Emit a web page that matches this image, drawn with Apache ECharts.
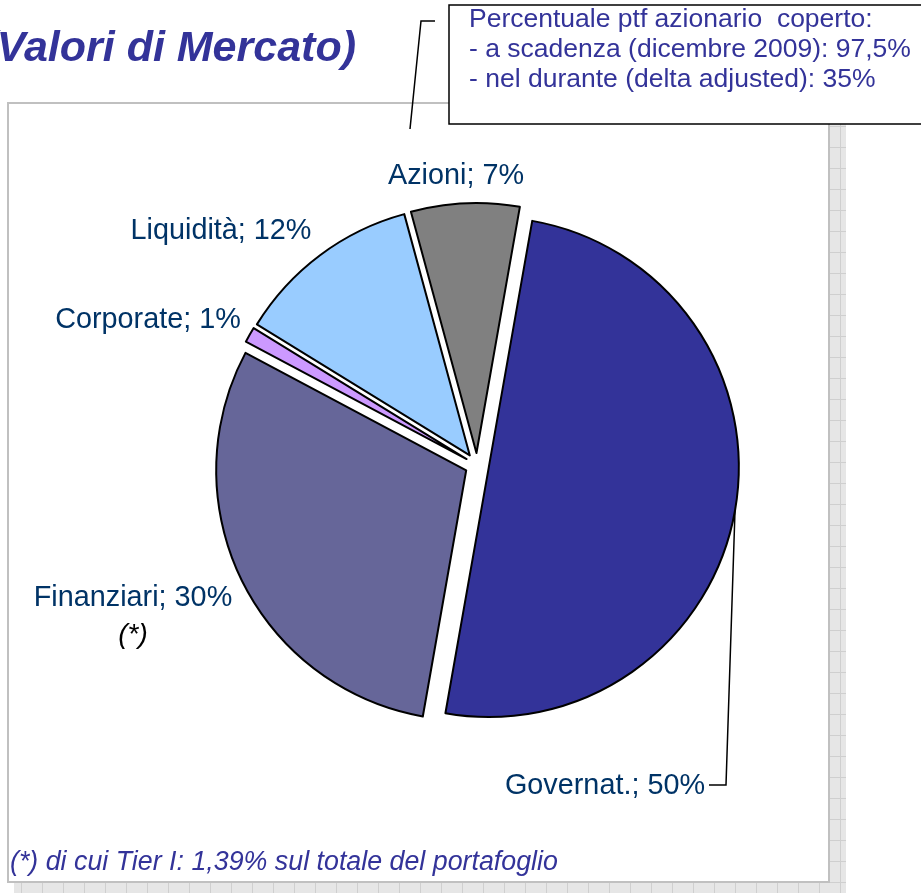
<!DOCTYPE html>
<html>
<head>
<meta charset="utf-8">
<script src="https://cdn.jsdelivr.net/npm/echarts@6/dist/echarts.min.js"></script>
<style>
  html, body { margin: 0; padding: 0; background: #fff; }
  #main { width: 921px; height: 893px; }
</style>
</head>
<body>
<div id="main"></div>
<script>
// categories and values (portfolio split, market values)
const categories = ['Governat.', 'Finanziari', 'Corporate', 'Liquidità', 'Azioni']
const shares = [50, 30, 1, 12, 7]
const sliceColors = ['#333399', '#666699', '#CC99FF', '#99CCFF', '#808080']
// where each label sits (centre of text)
const labelPos = [[605, 786], [133, 617], [148, 320], [221, 231], [456, 176]]

const txtFont = '"Liberation Sans", Arial, sans-serif'
const pieCenter = [477, 465]
const pieRadius = 250
const explode = 12
const startAngle = 80

// light grey grid used for the drop shadow of the frame
function shadowPattern() {
  const c = document.createElement('canvas')
  c.width = 21
  c.height = 21
  const g = c.getContext('2d')
  g.fillStyle = '#e6e6e6'
  g.fillRect(0, 0, 21, 21)
  g.strokeStyle = '#cfcfcf'
  g.lineWidth = 1
  g.beginPath()
  g.moveTo(0.5, 0); g.lineTo(0.5, 21)
  g.moveTo(0, 0.5); g.lineTo(21, 0.5)
  g.stroke()
  return { image: c, repeat: 'repeat' }
}

// outer point of a slice's middle, after the explode offset
function sliceMidPoint(idx) {
  const total = shares.reduce((a, b) => a + b, 0)
  let before = 0
  for (let i = 0; i < idx; i++) before += shares[i]
  const mid = startAngle - (before + shares[idx] / 2) / total * 360
  const rad = mid * Math.PI / 180
  const d = pieRadius + explode
  return [pieCenter[0] + d * Math.cos(rad), pieCenter[1] - d * Math.sin(rad)]
}

const myChart = echarts.init(document.getElementById('main'))
window.addEventListener('resize', () => {
  myChart.resize()
})

const pat = shadowPattern()

// slice labels
const labelGraphics = categories.map((name, i) => {
  const g = {
    type: 'text', z: 20, x: labelPos[i][0], y: labelPos[i][1],
    style: {
      text: name + '; ' + shares[i] + '%',
      font: '28.8px ' + txtFont,
      fill: '#003366',
      align: 'center',
      verticalAlign: 'middle'
    }
  }
  if (name === 'Finanziari') {
    g.style.text = '{n|' + name + '; ' + shares[i] + '%}\n{s|(*)}'
    g.style.rich = {
      n: { fill: '#003366', font: '28.8px ' + txtFont, lineHeight: 37, align: 'center' },
      s: { fill: '#000', font: 'italic 28px ' + txtFont, lineHeight: 37, align: 'center' }
    }
  }
  return g
})

const govLabelEnd = [709, 785]

myChart.setOption({
  animation: false,
  backgroundColor: '#fff',
  graphic: [
    // frame shadow
    { type: 'rect', z: 0, shape: { x: 830, y: 112, width: 16, height: 781 }, style: { fill: pat } },
    { type: 'rect', z: 0, shape: { x: 14, y: 883, width: 832, height: 10 }, style: { fill: pat } },
    // frame
    {
      type: 'rect', z: 0,
      shape: { x: 8, y: 103, width: 821, height: 779 },
      style: { fill: '#fff', stroke: '#c0c0c0', lineWidth: 2 }
    },
    // title, cut at the left edge
    {
      type: 'text', z: 10, x: 356, y: 49,
      style: {
        text: '(Valori di Mercato)',
        font: 'italic bold 43px ' + txtFont,
        fill: '#333399',
        align: 'right',
        verticalAlign: 'middle'
      }
    },
    // callout box
    {
      type: 'rect', z: 10,
      shape: { x: 449, y: 5, width: 490, height: 119 },
      style: { fill: '#fff', stroke: '#000', lineWidth: 1.5 }
    },
    {
      type: 'text', z: 11, x: 469, y: 50,
      style: {
        text: 'Percentuale ptf azionario  coperto:\n- a scadenza (dicembre 2009): 97,5%\n- nel durante (delta adjusted): 35%',
        font: '26.5px ' + txtFont,
        lineHeight: 30,
        fill: '#333399',
        align: 'left',
        verticalAlign: 'middle'
      }
    },
    {
      type: 'polyline', z: 10,
      shape: { points: [[410, 129], [421, 21], [435, 21]] },
      style: { stroke: '#000', lineWidth: 1.5, fill: null }
    },
    // leader line of the Governat. label
    {
      type: 'polyline', z: 10,
      shape: { points: [sliceMidPoint(0), [govLabelEnd[0] + 17, govLabelEnd[1]], govLabelEnd] },
      style: { stroke: '#000', lineWidth: 1.5, fill: null }
    },
    // footnote
    {
      type: 'text', z: 10, x: 10, y: 863,
      style: {
        text: '(*) di cui Tier I: 1,39% sul totale del portafoglio',
        font: 'italic 26.8px ' + txtFont,
        fill: '#333399',
        align: 'left',
        verticalAlign: 'middle'
      }
    }
  ].concat(labelGraphics),
  series: [
    {
      type: 'pie',
      z: 5,
      center: pieCenter,
      radius: pieRadius,
      startAngle: startAngle,
      clockwise: true,
      selectedMode: 'multiple',
      selectedOffset: explode,
      emphasis: { disabled: true },
      itemStyle: { borderColor: '#000', borderWidth: 2 },
      label: { show: false },
      labelLine: { show: false },
      data: categories.map((name, i) => ({
        name: name,
        value: shares[i],
        selected: true,
        itemStyle: { color: sliceColors[i] }
      }))
    }
  ]
})
</script>
</body>
</html>
